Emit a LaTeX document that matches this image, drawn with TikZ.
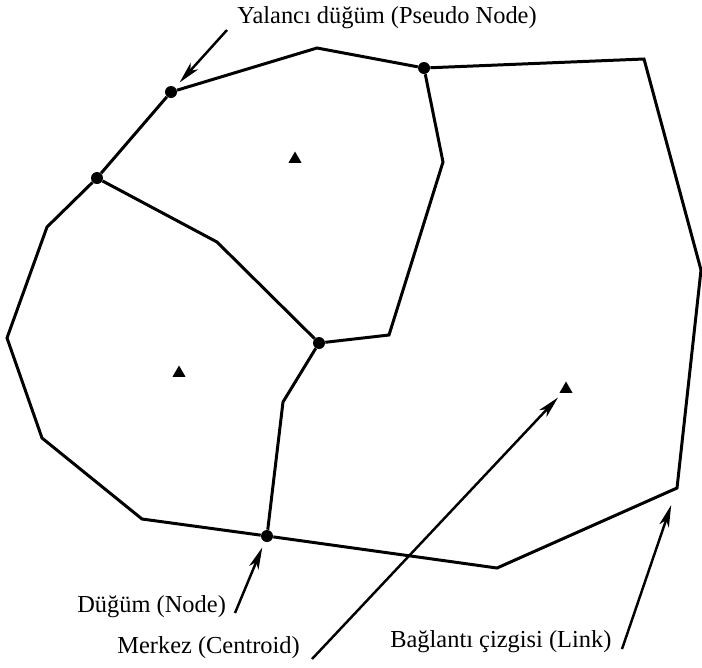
\documentclass[tikz,border=0pt]{standalone}
\usepackage{fontspec}
\setmainfont{Liberation Serif}
\usetikzlibrary{arrows.meta, shapes.geometric}
\tikzset{
  edge/.style={line width=1.7pt},
  joint/.style={circle,fill,inner sep=0pt,minimum size=0.24cm},
  centroid/.style={regular polygon,regular polygon sides=3,fill,inner sep=0pt,minimum size=0.3cm},
  label/.style={anchor=base west,inner sep=0pt,font=\fontsize{13.9pt}{16pt}\selectfont},
  pointer/.style={line width=1.4pt,-{Stealth[length=0.44cm,width=0.2cm,inset=0.12cm]}}
}

\begin{document}
\begin{tikzpicture}[x=0.02cm, y=-0.02cm]
\useasboundingbox (0,0) rectangle (702,667);
% nodes and pseudo nodes
\node[joint] (pseudo) at (171,92) {};
\node[joint] (nw) at (97,178) {};
\node[joint] (ntop) at (424,68) {};
\node[joint] (nmid) at (319,343) {};
\node[joint] (nbot) at (267,536) {};
% corners of the zones
\coordinate (top) at (317,48);
\coordinate (ne) at (644,59);
\coordinate (e) at (701,270);
\coordinate (se) at (677,488);
\coordinate (s) at (497,568);
\coordinate (sw) at (142,519);
\coordinate (w1) at (42,438);
\coordinate (w2) at (7,338);
\coordinate (w3) at (47,227);
\coordinate (k1) at (443,162);
\coordinate (k2) at (389,335);
\coordinate (k3) at (217,242);
\coordinate (k4) at (283,402);
% links
\draw[edge] (nw) -- (pseudo) -- (top) -- (ntop) -- (ne) -- (e) -- (se) -- (s) -- (nbot)
  -- (sw) -- (w1) -- (w2) -- (w3) -- (nw);
\draw[edge] (ntop) -- (k1) -- (k2) -- (nmid);
\draw[edge] (nw) -- (k3) -- (nmid);
\draw[edge] (nmid) -- (k4) -- (nbot);
% centroids
\node[centroid] (cen1) at (295,159) {};
\node[centroid] (cen2) at (179,373) {};
\node[centroid] (cen3) at (566,389) {};
% labels
\node[label] (lpseudo) at (237,23) {Yalancı düğüm (Pseudo Node)};
\node[label] (lnode) at (77,612) {Düğüm (Node)};
\node[label] (lcen) at (117,653) {Merkez (Centroid)};
\node[label] (llink) at (390,647) {Bağlantı çizgisi (Link)};
\coordinate (tpseudo) at (227,30);
\coordinate (tnode) at (235,613);
\coordinate (tcen) at (312,659);
\coordinate (tlink) at (622,649);
\draw[pointer, shorten >=0.13cm] (tpseudo) -- (pseudo);
\draw[pointer, shorten >=0.12cm] (tnode) -- (nbot);
\draw[pointer, shorten >=0.12cm] (tcen) -- (cen3);
\draw[pointer, shorten >=0.36cm] (tlink) -- (se);
\end{tikzpicture}
\end{document}
